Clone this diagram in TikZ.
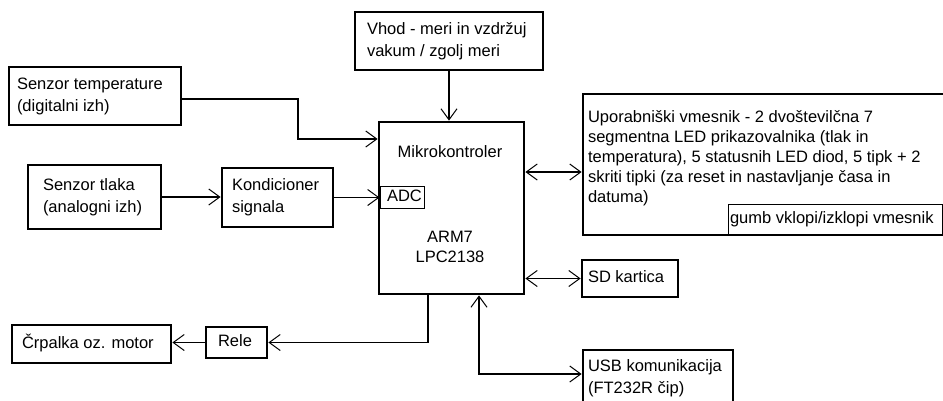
\documentclass[tikz,border=0pt]{standalone}
\usepackage{fontspec}
\setmainfont{Liberation Sans}
\usetikzlibrary{arrows.meta}
\newcommand\bxtext[2]{\makebox[#1][l]{\begin{tabular}{@{}l@{}}#2\end{tabular}}}
\begin{document}
\begin{tikzpicture}[x=1pt,y=-1pt,
  every node/.style={font=\fontsize{16.5}{22}\selectfont},
  box/.style={draw, line width=2.8pt, inner ysep=0pt},
  thinbox/.style={draw, line width=1pt, inner ysep=0pt},
  arr/.style={line width=1.1pt, -{Straight Barb[length=11pt,width=16pt,line width=1pt]}},
  darr/.style={line width=1.1pt, {Straight Barb[length=11pt,width=16pt,line width=1pt]}-{Straight Barb[length=11pt,width=16pt,line width=1pt]}}]
\clip (0,0) rectangle (943,400);
\fill[white] (0,0) rectangle (943,400);
% boxes
\node[box, minimum height=58pt, inner xsep=12pt] (vhod) at (449,41) {\bxtext{164pt}{Vhod - meri in vzdržuj\\vakum / zgolj meri}};
\node[box, minimum height=58pt, inner xsep=8pt] (temp) at (95,96) {\bxtext{156pt}{Senzor temperature\\(digitalni izh)}};
\node[box, minimum height=64pt, inner xsep=15pt] (tlaka) at (94.5,197) {\bxtext{103pt}{Senzor tlaka\\(analogni izh)}};
\node[box, minimum height=59pt, inner xsep=10pt] (kond) at (277.5,197.5) {\bxtext{91pt}{Kondicioner\\signala}};
\node[box, minimum width=145pt, minimum height=172pt] (mcu) at (451.5,208) {};
\node (mk) at (450,152) {Mikrokontroler};
\node (arm) at (450,248) {\fontsize{16.5}{20}\selectfont\begin{tabular}{@{}c@{}}ARM7\\LPC2138\end{tabular}};
\node[thinbox, inner xsep=7pt, minimum height=20pt] (adc) at (402,197) {\bxtext{30pt}{ADC}};
\node[box, minimum height=38pt, inner xsep=10pt] (pump) at (91.5,344) {\bxtext{139pt}{Črpalka oz. motor}};
\node[box, minimum height=31pt, inner xsep=12pt] (rele) at (236.5,342.5) {\bxtext{37pt}{Rele}};
\node[box, minimum height=141pt, inner xsep=5pt] (ui) at (765.5,164.5) {\raisebox{6pt}[\height][\depth]{\fontsize{16.5}{20}\selectfont\bxtext{355pt}{Uporabniški vmesnik - 2 dvoštevilčna 7\\segmentna LED prikazovalnika (tlak in\\temperatura), 5 statusnih LED diod, 5 tipk + 2\\skriti tipki (za reset in nastavljanje časa in\\datuma)}}};
\node[thinbox, minimum height=31pt, inner xsep=2pt] (gumb) at (835,219.5) {\bxtext{210pt}{gumb vklopi/izklopi vmesnik}};
\node[box, minimum height=37pt, inner xsep=6pt] (sd) at (630,278.5) {\bxtext{84pt}{SD kartica}};
\node[box, minimum height=56pt, inner xsep=5pt] (usb) at (658,378) {\bxtext{140pt}{USB komunikacija\\(FT232R čip)}};
% connectors
\coordinate (tbend) at (298,139);
\draw[arr] ([yshift=-3pt]temp.east) -| (tbend) -- (tbend -| mcu.west);
\draw[arr] (vhod.south) -- (vhod.south |- mcu.north);
\draw[arr] (tlaka.east) -- (tlaka.east -| kond.west);
\draw[arr] (kond.east) -- (kond.east -| adc.west);
\draw[darr] ([yshift=36pt]mcu.east) -- ([yshift=36pt]mcu.east -| ui.west);
\draw[darr] (sd.west -| mcu.east) -- (sd.west);
\draw[arr] ([xshift=-23.5pt]mcu.south) |- (rele.east);
\draw[arr] (rele.west) -- (rele.west -| pump.east);
\draw[darr] ([xshift=27.5pt]mcu.south) |- ([yshift=4pt]usb.west);
\end{tikzpicture}
\end{document}
